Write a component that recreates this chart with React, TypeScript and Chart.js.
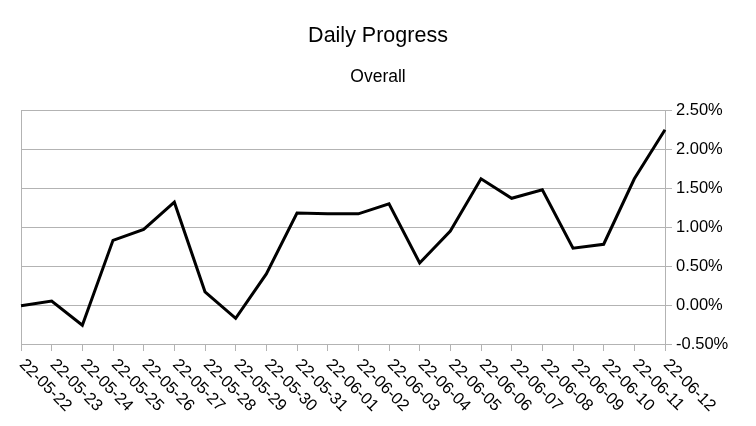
import { useEffect, useRef } from "react";
import { Chart, registerables } from "chart.js";

Chart.register(...registerables);

const dates = [
  "22-05-22", "22-05-23", "22-05-24", "22-05-25", "22-05-26", "22-05-27",
  "22-05-28", "22-05-29", "22-05-30", "22-05-31", "22-06-01", "22-06-02",
  "22-06-03", "22-06-04", "22-06-05", "22-06-06", "22-06-07", "22-06-08",
  "22-06-09", "22-06-10", "22-06-11", "22-06-12",
];
// percent
const progress = [
  -0.01, 0.05, -0.26, 0.83, 0.97, 1.32, 0.17, -0.17, 0.4, 1.18, 1.17, 1.17,
  1.3, 0.54, 0.95, 1.62, 1.37, 1.48, 0.73, 0.78, 1.62, 2.25,
];
const yMin = -0.5;
const yMax = 2.5;
const yStep = 0.5;

const FONT = '"Liberation Sans", Arial, sans-serif';
const GRID = "#b3b3b3";

// chart.js only rotates x labels one way, these go down to the right
const slantedLabels = {
  id: "slantedLabels",
  afterDraw(chart: any) {
    const x = chart.scales.x;
    const ctx = chart.ctx;
    ctx.save();
    ctx.font = `16.5px ${FONT}`;
    ctx.fillStyle = "#000";
    ctx.textAlign = "left";
    ctx.textBaseline = "middle";
    x.ticks.forEach((_t: any, i: number) => {
      ctx.save();
      ctx.translate(x.getPixelForTick(i) + 1, x.top + 18);
      ctx.rotate(Math.PI / 4);
      ctx.fillText(chart.data.labels[i], 0, 0);
      ctx.restore();
    });
    ctx.restore();
  },
};

export default function App() {
  const canvasEl: any = useRef(null);

  useEffect(() => {
    const ctx = canvasEl.current.getContext("2d");

    const chart = new Chart(ctx, {
      type: "line",
      data: {
        labels: dates,
        datasets: [
          {
            label: "Overall",
            data: progress,
            borderColor: "#000",
            borderWidth: 3,
            borderJoinStyle: "miter",
            pointRadius: 0,
            tension: 0,
            fill: false,
          },
        ],
      },
      options: {
        animation: false,
        responsive: true,
        maintainAspectRatio: false,
        layout: { padding: 0 },
        plugins: {
          legend: { display: false },
          tooltip: { enabled: false },
          title: {
            display: true,
            text: "Daily Progress",
            color: "#000",
            font: { family: FONT, size: 21.5, weight: "normal" },
            padding: { top: 23, bottom: 0 },
          },
          subtitle: {
            display: true,
            text: "Overall",
            color: "#000",
            font: { family: FONT, size: 17.5, weight: "normal" },
            padding: { top: 17.6, bottom: 22.8 },
          },
        },
        scales: {
          x: {
            offset: false,
            grid: {
              drawOnChartArea: true,
              color: (c: any) => (c.index === 0 ? GRID : "transparent"),
              tickColor: GRID,
              tickLength: 7,
            },
            border: { display: true, color: GRID },
            ticks: { display: false, autoSkip: false },
            afterFit: (s: any) => {
              s.height = 82;
            },
          },
          // empty left gutter so the titles stay centred on the page
          gutter: {
            type: "linear",
            position: "left",
            display: true,
            grid: { display: false },
            border: { display: false },
            ticks: { display: false },
            afterFit: (s: any) => {
              s.width = 21;
            },
          },
          y: {
            position: "right",
            min: yMin,
            max: yMax,
            grid: { color: GRID, tickLength: 7 },
            border: { display: true, color: GRID },
            ticks: {
              stepSize: yStep,
              padding: 4,
              color: "#000",
              font: { family: FONT, size: 16.5 },
              callback: (v: any) => Number(v).toFixed(2) + "%",
            },
            afterFit: (s: any) => {
              s.width = 91;
            },
          },
        },
      } as any,
      plugins: [slantedLabels],
    });

    return () => {
      chart.destroy();
    };
  }, []);

  return (
    <div style={{ position: "fixed", left: 0, top: 0, width: 756, height: 426, background: "#fff" }}>
      <canvas ref={canvasEl} />
    </div>
  );
}
